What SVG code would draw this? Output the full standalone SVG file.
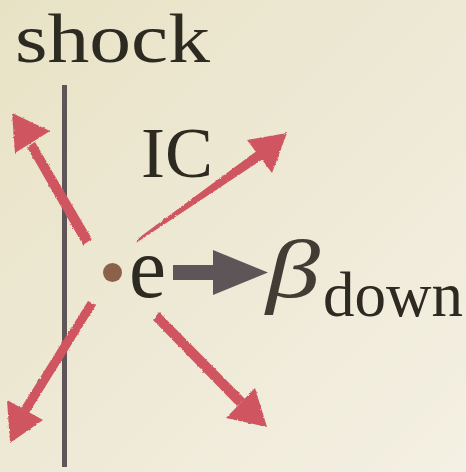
<svg xmlns="http://www.w3.org/2000/svg" width="466" height="472" viewBox="0 0 466 472">
<defs>
<linearGradient id="bg" x1="0" y1="0" x2="1" y2="1">
<stop offset="0" stop-color="#e8e2c5"/>
<stop offset="0.5" stop-color="#eee9d5"/>
<stop offset="1" stop-color="#f4f0e3"/>
</linearGradient>
<filter id="rough" x="-10%" y="-10%" width="120%" height="120%">
<feTurbulence type="fractalNoise" baseFrequency="0.35" numOctaves="2" seed="3" result="n"/>
<feDisplacementMap in="SourceGraphic" in2="n" scale="2.5" xChannelSelector="R" yChannelSelector="G"/>
</filter>
<style>
.txt{font-family:"Liberation Serif","DejaVu Serif",serif;fill:#2d2a22}
.red{fill:#cf5560}
.dark{fill:#5e5558}
</style>
</defs>
<rect width="466" height="472" fill="url(#bg)"/>

<g id="shock">
<text class="txt" x="15" y="62" font-size="70" textLength="195" lengthAdjust="spacingAndGlyphs">shock</text>
<rect class="dark" x="62" y="85" width="5" height="382"/>
</g>

<g id="IC">
<text class="txt" x="141" y="177" font-size="71" textLength="72" lengthAdjust="spacingAndGlyphs">IC</text>
</g>

<g id="electron">
<circle cx="112.5" cy="272.5" r="9.5" fill="#8b6249"/>
<text class="txt" x="129" y="297" font-size="86" textLength="37" lengthAdjust="spacingAndGlyphs">e</text>
</g>

<g id="beta">
<text class="txt" x="266" y="297" font-size="82" font-style="italic" fill-opacity="0.9" textLength="54" lengthAdjust="spacingAndGlyphs">β</text>
<text class="txt" x="323" y="316" font-size="64" textLength="140" lengthAdjust="spacingAndGlyphs">down</text>
</g>

<g id="connectors">
<g filter="url(#rough)">
<!-- upper-left -->
<polygon class="red" points="83,245 92,239 35,142 27,147"/>
<polygon class="red" points="12,113 50,131 15,153"/>
<!-- upper-right -->
<polygon class="red" points="136,243 140,237 258,150 263,159"/>
<polygon class="red" points="287,133 247,140 272,173"/>
<!-- lower-left -->
<polygon class="red" points="88,301 96,305 29,413 21,408"/>
<polygon class="red" points="10,443 7,400 43,420"/>
<!-- lower-right -->
<polygon class="red" points="153,320 159,312 245,399 237,406"/>
<polygon class="red" points="267,427 255,388 226,418"/>
</g>
<!-- thick arrow -->
<rect class="dark" x="173" y="265" width="42" height="15"/>
<polygon class="dark" points="213,250 268,272.5 213,295"/>
</g>
</svg>
